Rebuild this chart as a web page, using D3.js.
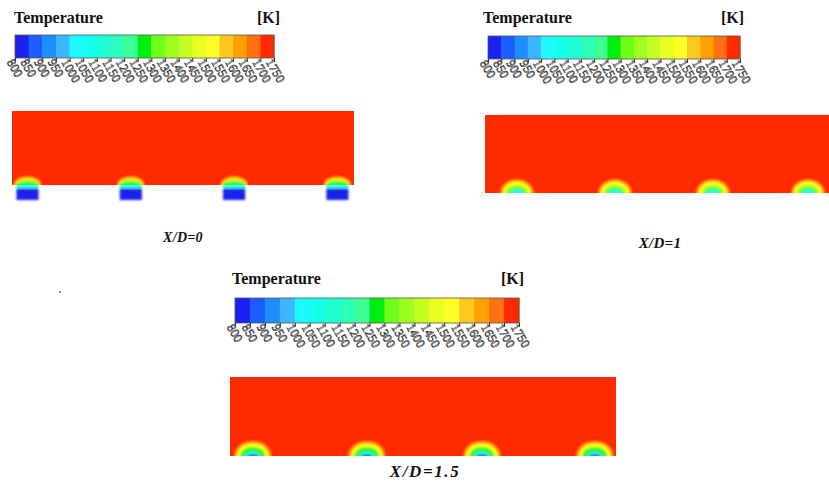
<!DOCTYPE html>
<html><head><meta charset="utf-8">
<script src="https://cdn.jsdelivr.net/npm/d3@7"></script>
<style>body{margin:0;background:#fff;overflow:hidden} text{font-family:'Liberation Serif','DejaVu Serif',serif}</style></head>
<body><svg id="c" width="829" height="482"></svg>
<script>
// ---------- data ----------
const tickValues = [800,850,900,950,1000,1050,1100,1150,1200,1250,1300,1350,1400,1450,1500,1550,1600,1650,1700,1750];
const bandColors = ["#1c22ee","#1a5eff","#1e8eff","#3cb6ff","#1ef8ff","#14ffec","#1effd6","#2cffbc","#3cff96","#00ee10",
                    "#70ff18","#9cff20","#c4ff20","#e8ff20","#ffff28","#ffc820","#ffa000","#ff7010","#ff2a00"];
const legendTitle = "Temperature";
const legendUnit = "[K]";
const panelTitles = ["X/D=0", "X/D=1", "X/D=1.5"];
const fieldTemp = 1740;
// jet centres in jet-pitch units, per panel
const jetCenters1 = [0.15, 1.15, 2.15, 3.15];
const jetCenters2 = [0.33, 1.34, 2.35, 3.33];
const jetCenters3 = [0.20, 1.20, 2.21, 3.20];
// contour half-ellipses above the wall: [temperature, half-width, height] in pitch units
const contours1 = [[1720,0.14,0.1],[1640,0.13,0.085],[1560,0.12,0.07],[1460,0.115,0.055],[1320,0.11,0.04],[1270,0.105,0.025],[1120,0.1,0.01]];
const contours2 = [[1720,0.195,0.165],[1630,0.17,0.14],[1530,0.145,0.115],[1420,0.12,0.09],[1300,0.1,0.07],[1200,0.08,0.05],[1060,0.055,0.025]];
const contours3 = [[1720,0.185,0.15],[1630,0.16,0.13],[1530,0.14,0.11],[1420,0.12,0.09],[1280,0.1,0.07],[1150,0.08,0.045],[880,0.05,0.015]];
// coolant hole below the wall at X/D=0: [temperature, top depth, bottom depth], half-width
const holeLayers = [[1280,0,0.012],[1100,0.012,0.035],[830,0.035,0.145]];
const holeHalfWidth = 0.107;

// ---------- layout ----------
const FONT = "'Liberation Serif','DejaVu Serif',serif";
const legends = [
  {bx0:15, bx1:274, by0:35, by1:58, tx:14, ty:23, ux:280},
  {bx0:488, bx1:740, by0:36, by1:59, tx:483, ty:23, ux:744},
  {bx0:235, bx1:519, by0:298, by1:323, tx:232, ty:284, ux:524}
];
const panels = [
  {x0:12, x1:354, yt:111, yb:185, pitch:103.3, jets:jetCenters1, cont:contours1, hole:true,
   label:{x:183, y:242, size:14, ls:0.3}},
  {x0:485, x1:829, yt:115, yb:193, pitch:97, jets:jetCenters2, cont:contours2, hole:false,
   label:{x:660, y:248, size:15, ls:0.3}},
  {x0:230, x1:616, yt:377, yb:456, pitch:114, jets:jetCenters3, cont:contours3, hole:false,
   label:{x:425, y:477, size:17, ls:1.6}}
];

const svg = d3.select("#c");
const color = d3.scaleThreshold().domain(tickValues.slice(1, -1)).range(bandColors);

const defs = svg.append("defs");
defs.append("filter").attr("id","soft").attr("x","-20%").attr("y","-20%").attr("width","140%").attr("height","140%")
  .append("feGaussianBlur").attr("stdDeviation", 0.9);

// ---------- legends ----------
legends.forEach((L, i) => {
  const g = svg.append("g");
  const x = d3.scaleLinear().domain([tickValues[0], tickValues[tickValues.length-1]]).range([L.bx0, L.bx1]);
  const bands = d3.pairs(tickValues);
  g.selectAll("rect.band").data(bands).join("rect")
    .attr("x", d => x(d[0])).attr("y", L.by0)
    .attr("width", d => x(d[1]) - x(d[0]) + 0.5).attr("height", L.by1 - L.by0)
    .attr("fill", d => color((d[0] + d[1]) / 2));
  g.append("rect").attr("x", L.bx0).attr("y", L.by0).attr("width", L.bx1 - L.bx0).attr("height", L.by1 - L.by0)
    .attr("fill","none").attr("stroke","#555").attr("stroke-width",0.8);
  const ax = g.append("g").attr("transform", `translate(0,${L.by1})`)
    .call(d3.axisBottom(x).tickValues(tickValues).tickSize(4).tickFormat(d3.format("d")));
  ax.attr("font-family", null).attr("font-size", null);
  ax.select(".domain").remove();
  ax.selectAll(".tick line").attr("stroke","#222");
  ax.selectAll(".tick text")
    .style("font-family", FONT).style("font-size", "12.5px")
    .attr("fill","#f6f6f6").attr("stroke","#333").attr("stroke-width",0.6)
    .attr("text-anchor","start").attr("dy","0.3em").attr("y", 6).attr("x", -1)
    .attr("transform","rotate(60)");
  g.append("text").attr("x", L.tx).attr("y", L.ty).text(legendTitle)
    .style("font-family", FONT).attr("font-weight","bold").attr("font-size", 16).attr("fill","#111");
  g.append("text").attr("x", L.ux).attr("y", L.ty).attr("text-anchor","end").text(legendUnit)
    .style("font-family", FONT).attr("font-weight","bold").attr("font-size", 16).attr("fill","#111");
});

// ---------- panels ----------
panels.forEach((P, i) => {
  const w = (P.x1 - P.x0) / P.pitch, h = (P.yb - P.yt) / P.pitch;
  const x = d3.scaleLinear().domain([0, w]).range([P.x0, P.x1]);
  const y = d3.scaleLinear().domain([0, h]).range([P.yb, P.yt]);
  const sx = v => x(v) - x(0), sy = v => y(0) - y(v);
  const clipId = "clip" + i;
  defs.append("clipPath").attr("id", clipId).append("rect")
    .attr("x", x(0)).attr("y", y(h)).attr("width", x(w) - x(0)).attr("height", y(0) - y(h));
  const g = svg.append("g");
  g.append("rect").attr("x", x(0)).attr("y", y(h)).attr("width", x(w) - x(0)).attr("height", y(0) - y(h))
    .attr("fill", color(fieldTemp));
  const cg = g.append("g").attr("clip-path", `url(#${clipId})`).append("g").attr("filter","url(#soft)");
  P.jets.forEach(c => {
    cg.selectAll(null).data(P.cont).join("ellipse")
      .attr("cx", x(c)).attr("cy", y(0)).attr("rx", d => sx(d[1])).attr("ry", d => sy(d[2]))
      .attr("fill", d => color(d[0]));
  });
  if (P.hole) {
    const hg = g.append("g").attr("filter","url(#soft)");
    P.jets.forEach(c => {
      hg.selectAll(null).data(holeLayers).join("rect")
        .attr("x", x(c - holeHalfWidth)).attr("width", sx(2 * holeHalfWidth))
        .attr("y", d => y(-d[1])).attr("height", d => sy(d[2] - d[1]))
        .attr("fill", d => color(d[0]));
    });
  }
  svg.append("text").attr("x", P.label.x).attr("y", P.label.y).attr("text-anchor","middle")
    .text(panelTitles[i])
    .style("font-family", FONT).attr("font-weight","bold").attr("font-style","italic")
    .attr("font-size", P.label.size).attr("letter-spacing", P.label.ls).attr("fill","#111");
});

// stray mark present in the source figure
svg.append("circle").attr("cx", 60).attr("cy", 292).attr("r", 0.9).attr("fill","#555");
</script>
</body></html>
